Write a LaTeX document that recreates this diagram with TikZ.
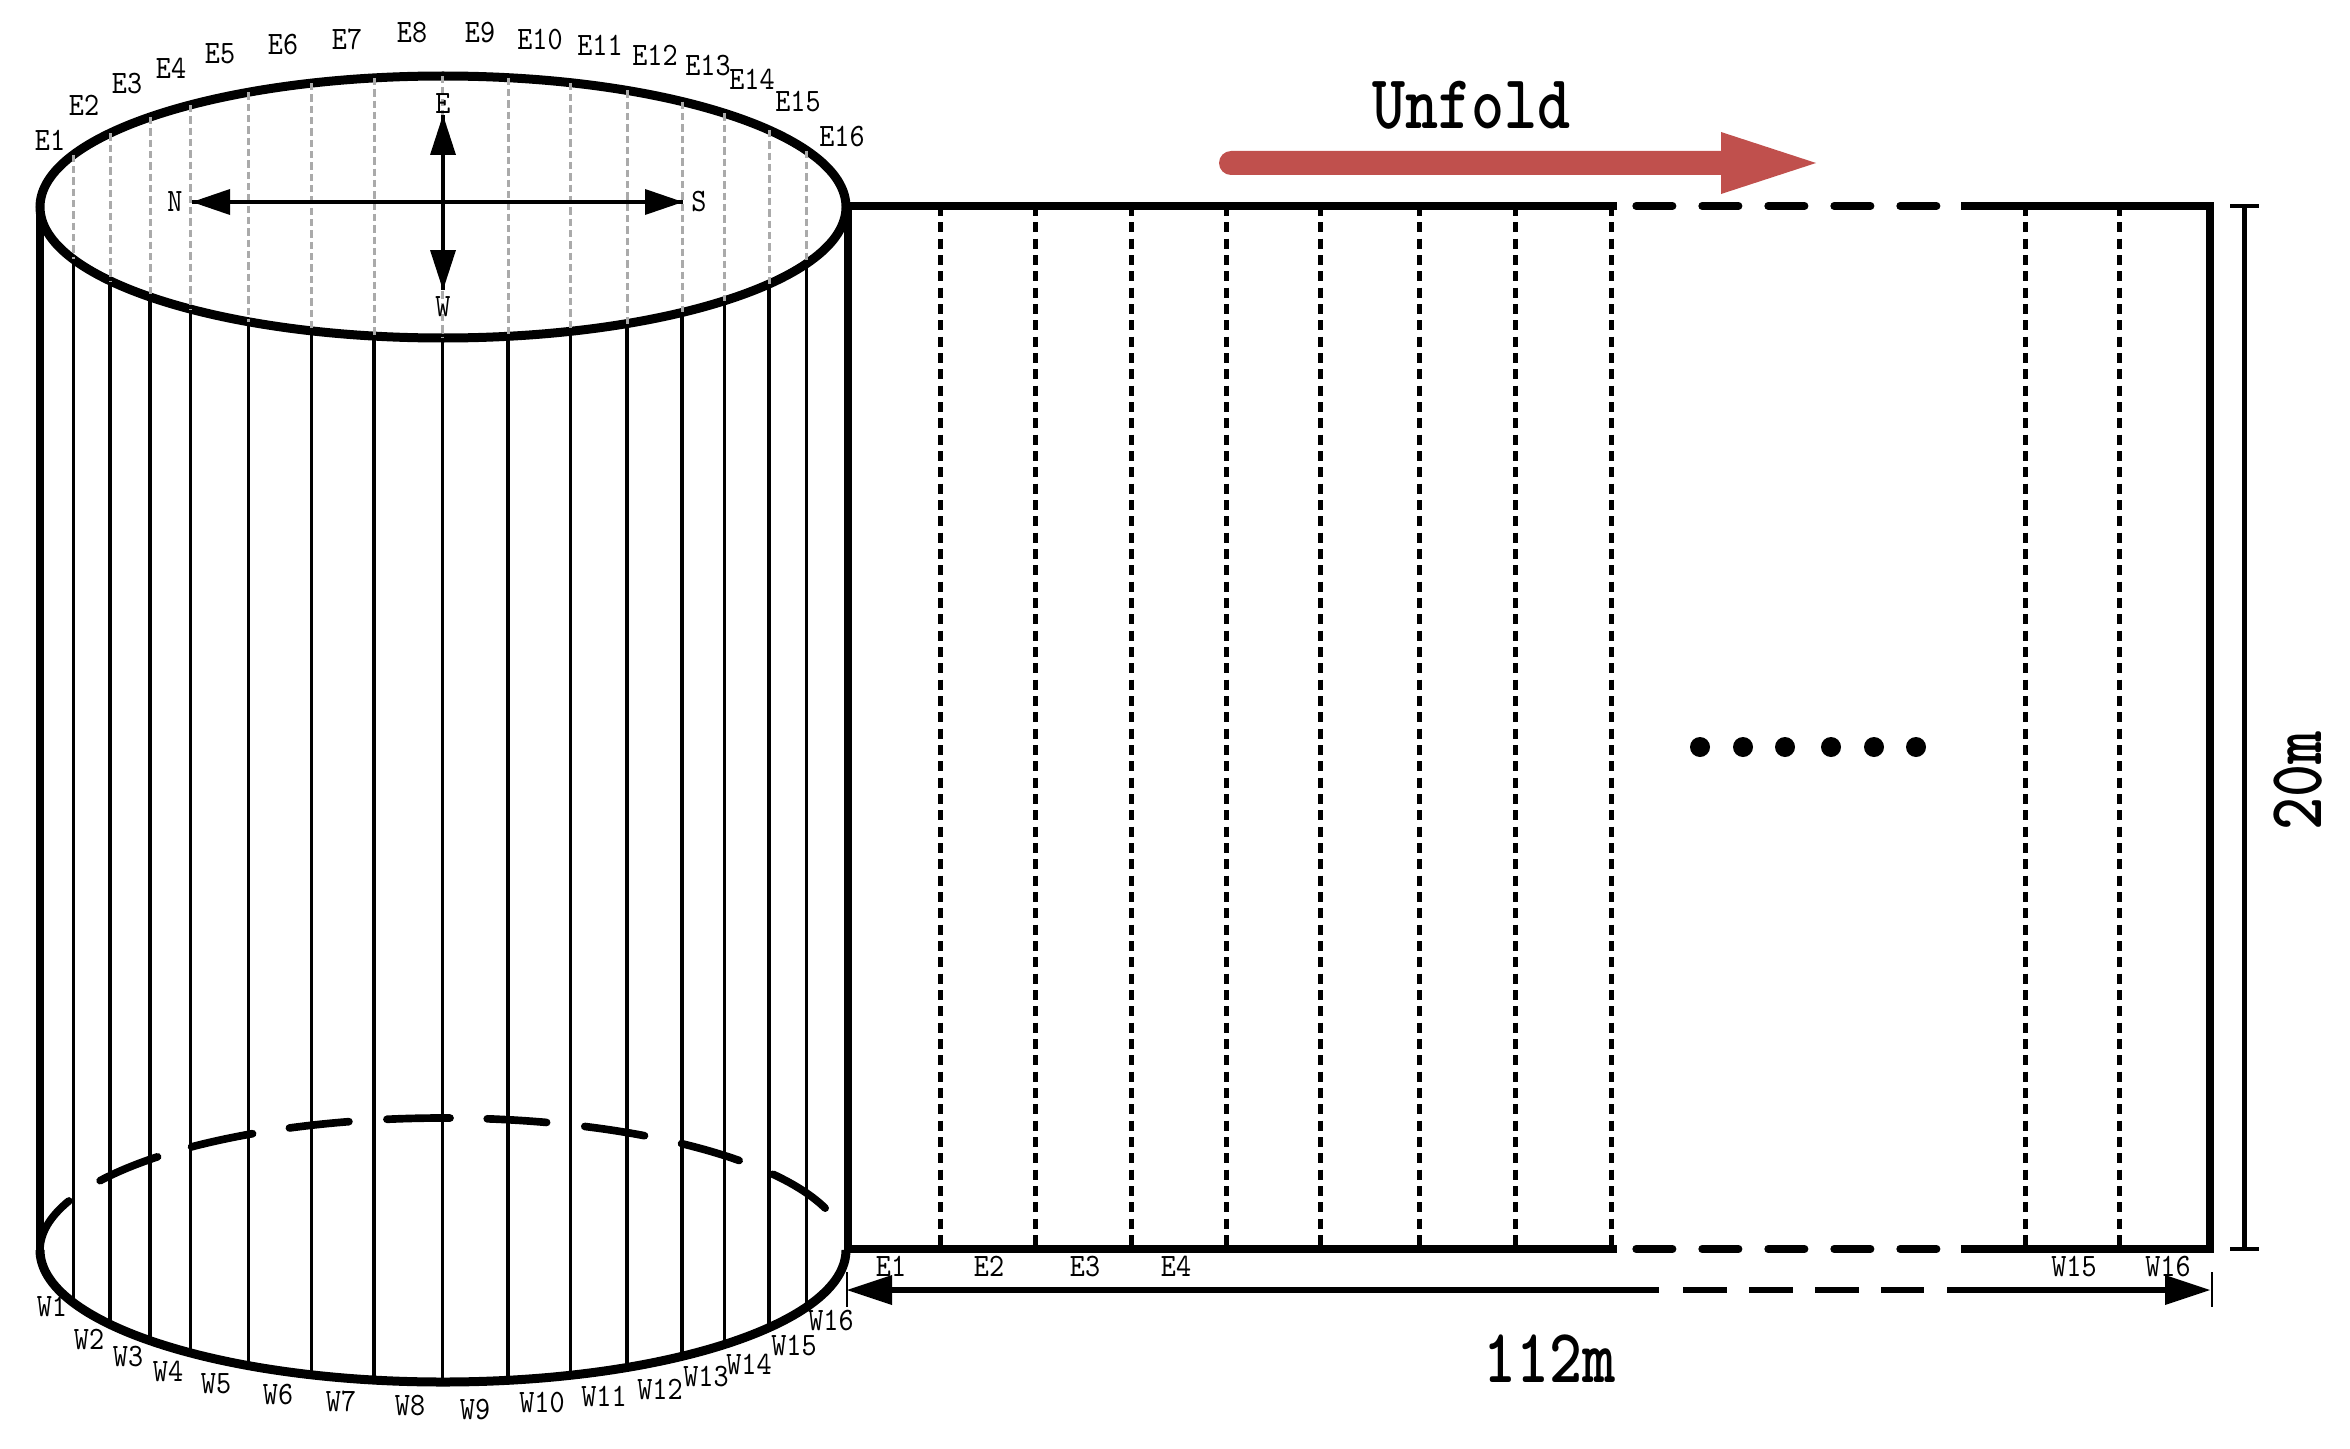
\documentclass[tikz,border=0pt]{standalone}
\usepackage{tikz}
\usetikzlibrary{arrows}
\definecolor{unfoldred}{RGB}{192,80,77}
\newcommand{\smalltxt}[1]{\scalebox{.88}[1]{\fontsize{9.8}{10}\ttfamily\selectfont #1}}
\newcommand{\bigtxt}[1]{\scalebox{.82}[1]{\fontsize{23}{24}\ttfamily\bfseries\selectfont #1}}
\tikzset{
  wall/.style={line width=2.4pt},
  rim/.style={line width=2.7pt},
  edgeline/.style={line width=2.2pt},
  lbl/.style={inner sep=0pt},
  gap/.style={edgeline,line cap=round,dash pattern={on 11pt off 8.8pt}},
}
\begin{document}
\begin{tikzpicture}[x=0.3pt,y=0.3pt,yscale=-1,xscale=1]
\useasboundingbox (0,0) rectangle (2350,1448);

% cylinder
\draw [wall] (40,207) -- (40,1250);
\draw [wall] (848,207) -- (848,1250);
\draw [rim,fill=white] (443,207) ellipse (403 and 131);
\draw [rim] (40,1250) arc (180:0:403 and 132);
\foreach \a/\b in {180/201.8,211.7/224.9,231.4/241.8,247.6/256.5,262/271,276.3/284.9,290.6/300,306.3/317.3,325/341.5}
  \draw [line width=2.3pt,line cap=round] (\a:403 and 132) ++(443,1250) arc (\a:\b:403 and 132);

% generators
\foreach \x in {73.5,110,150,190.6,248.6,311.7,374,442.6,508,570.6,627,682,724.5,769,806.6} {
  \pgfmathsetmacro{\h}{sqrt(1-((\x-443)/403)^2)}
  \draw [line width=1pt] (\x,207+131*\h) -- (\x,1250+132*\h);
  \draw [color={rgb, 255:red, 170; green, 170; blue, 170 },line width=0.9pt,dash pattern={on 2.2pt off 1.2pt}] (\x,207-131*\h) -- (\x,207+131*\h);
}

% compass
\foreach \lab/\x/\y in {N/175/202,S/699/202,E/443/104,W/443/307}
  \node [lbl] (\lab) at (\x,\y) {\smalltxt{\lab}};
\coordinate (nt) at (192,202);
\coordinate (st) at (683,202);
\coordinate (et) at (443,115);
\coordinate (wt) at (443,290);
\draw [line width=1.2pt] (nt) -- (st);
\draw [line width=1.2pt] (et) -- (wt);
\fill (nt) -- ++(38,-13) -- ++(0,26) -- cycle;
\fill (st) -- ++(-38,-13) -- ++(0,26) -- cycle;
\fill (et) -- ++(-13,40) -- ++(26,0) -- cycle;
\fill (wt) -- ++(-13,-40) -- ++(26,0) -- cycle;

% labels round the rims
\foreach \lab/\x/\y in {E1/50/140,E2/84/105,E3/127/84,E4/171/68,E5/220/54,E6/283/45,E7/347/39,E8/412/33,E9/480/33,E10/540/40,E11/600/45,E12/655/55,E13/708/66,E14/752/79,E15/798/102,E16/842/137}
  \node [lbl] (top\lab) at (\x,\y) {\smalltxt{\lab}};
\foreach \lab/\x/\y in {W1/52/1306,W2/89/1339,W3/128/1357,W4/168/1371,W5/216/1384,W6/278/1394,W7/341/1401,W8/410/1405,W9/475/1409,W10/542/1402,W11/604/1396,W12/660/1389,W13/706/1376,W14/749/1364,W15/794/1345,W16/831/1321}
  \node [lbl] (bot\lab) at (\x,\y) {\smalltxt{\lab}};

% unfolded sheet
\draw [edgeline] (1617,206) -- (848,206) -- (848,1249) -- (1617,1249);
\draw [edgeline] (1961,206) -- (2210,206) -- (2210,1249) -- (1961,1249);
\draw [gap] (1636,206) -- (1940,206);
\draw [gap] (1636,1249) -- (1940,1249);
\foreach \x in {940,1035,1131,1226,1320,1419,1515,1611,2025,2119}
  \draw [line width=1.5pt,dash pattern={on 3pt off 1.9pt}] (\x,206) -- (\x,1249);
\foreach \lab/\x in {E1/891,E2/989,E3/1085,E4/1176,W15/2074,W16/2168}
  \node [lbl] (low\lab) at (\x,1266) {\smalltxt{\lab}};
\foreach \x in {1700,1743,1785,1831,1874,1916}
  \fill (\x,747) circle (10);

% unfold arrow
\fill [unfoldred] (1231,151) -- (1730,151) -- (1730,175) -- (1231,175) arc (90:270:12) -- cycle;
\fill [unfoldred] (1721,132) -- (1816,163) -- (1721,194) -- cycle;
\node [lbl] (unfold) at (1471,105) {\bigtxt{Unfold}};

% length
\coordinate (la) at (847,1290);
\coordinate (lb) at (2210,1290);
\draw [line width=1.9pt] (890,1290) -- (1659,1290);
\draw [line width=1.9pt] (1947,1290) -- (2170,1290);
\draw [line width=1.9pt,dash pattern={on 13.3pt off 6.5pt}] (1683,1290) -- (1924,1290);
\fill (la) -- ++(45,-15) -- ++(0,30) -- cycle;
\fill (lb) -- ++(-45,-15) -- ++(0,30) -- cycle;
\draw [line width=0.8pt] (847,1272) -- (847,1307);
\draw [line width=0.8pt] (2212,1272) -- (2212,1307);
\node [lbl] (len) at (1549,1359) {\bigtxt{112m}};

% height
\draw [line width=1.5pt] (2244,206) -- (2244,1249);
\draw [line width=1.4pt] (2230,206) -- (2259,206);
\draw [line width=1.4pt] (2230,1249) -- (2259,1249);
\node [lbl,rotate=90] (hgt) at (2298,781) {\bigtxt{20m}};

\end{tikzpicture}
\end{document}
